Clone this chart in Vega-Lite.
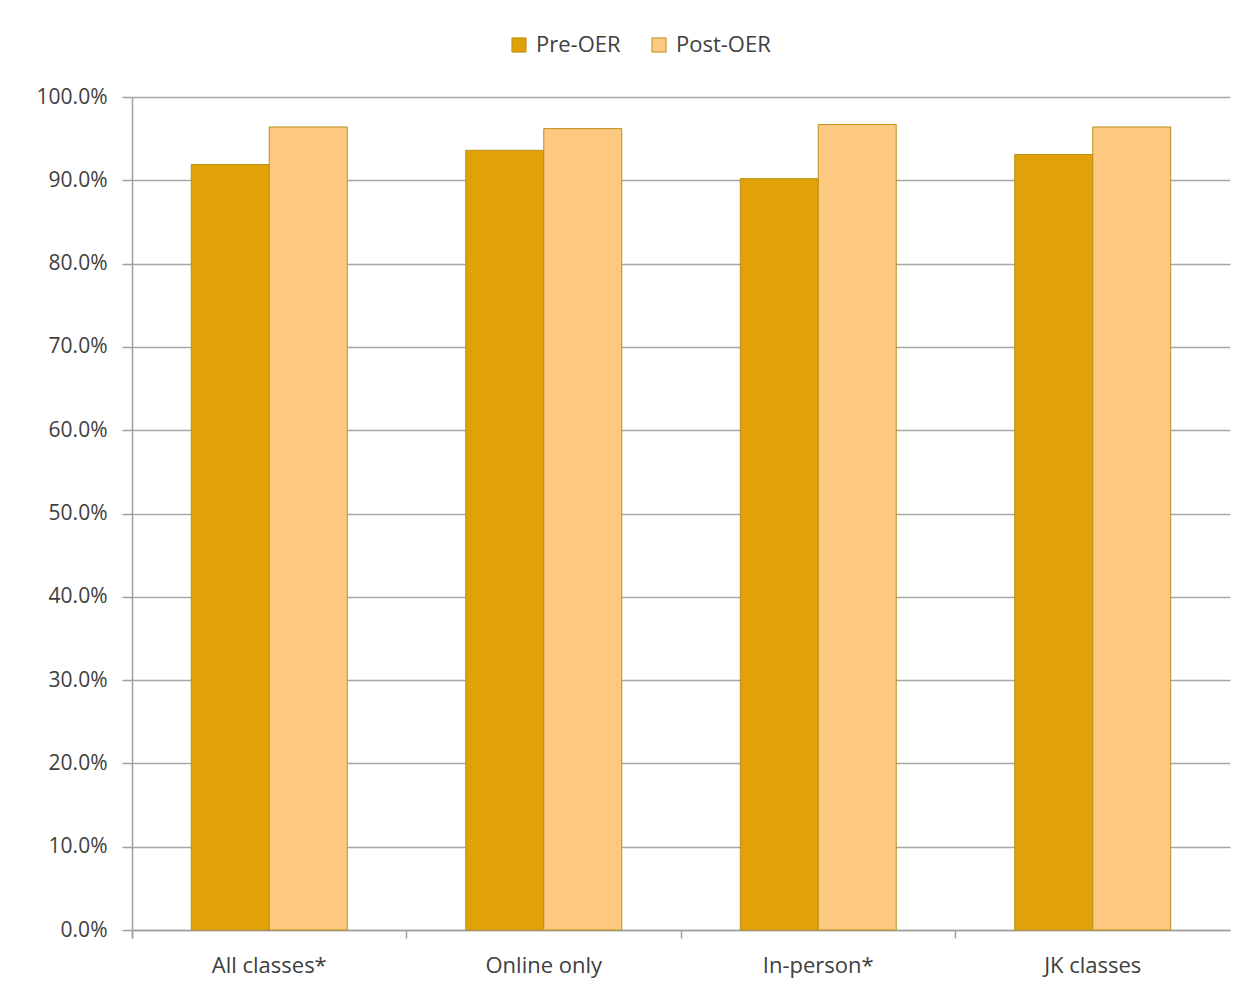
{
  "$schema": "https://vega.github.io/schema/vega-lite/v6.json",
  "autosize": {"type": "none"},
  "width": 1098,
  "height": 833,
  "padding": {"left": 132, "top": 97, "right": 25, "bottom": 63},
  "background": "white",
  "data": {
    "values": [
      {"group": "All classes*", "period": "Pre-OER", "rate": 0.919},
      {"group": "All classes*", "period": "Post-OER", "rate": 0.964},
      {"group": "Online only", "period": "Pre-OER", "rate": 0.936},
      {"group": "Online only", "period": "Post-OER", "rate": 0.962},
      {"group": "In-person*", "period": "Pre-OER", "rate": 0.902},
      {"group": "In-person*", "period": "Post-OER", "rate": 0.967},
      {"group": "JK classes", "period": "Pre-OER", "rate": 0.931},
      {"group": "JK classes", "period": "Post-OER", "rate": 0.964}
    ]
  },
  "mark": {"type": "bar", "stroke": "#b8901a", "strokeWidth": 1},
  "encoding": {
    "x": {
      "field": "group",
      "type": "nominal",
      "sort": ["All classes*", "Online only", "In-person*", "JK classes"],
      "scale": {"paddingInner": 0, "paddingOuter": 0},
      "axis": {
        "title": null,
        "labelAngle": 0,
        "bandPosition": 0,
        "tickExtra": true,
        "domainColor": "#a0a0a0",
        "domainWidth": 1.5,
        "tickColor": "#a0a0a0",
        "tickWidth": 1.5,
        "tickSize": 8,
        "labelPadding": 17,
        "labelFont": "Open Sans",
        "labelFontSize": 22,
        "labelColor": "#404040",
        "grid": false
      }
    },
    "xOffset": {
      "field": "period",
      "type": "nominal",
      "sort": ["Pre-OER", "Post-OER"],
      "scale": {"paddingInner": 0, "paddingOuter": 0.76}
    },
    "y": {
      "field": "rate",
      "type": "quantitative",
      "scale": {"domain": [0, 1], "nice": false},
      "axis": {
        "title": null,
        "format": ".1%",
        "values": [0, 0.1, 0.2, 0.3, 0.4, 0.5, 0.6, 0.7, 0.8, 0.9, 1.0],
        "grid": true,
        "gridColor": "#a6a6a6",
        "gridWidth": 1.5,
        "domainColor": "#a0a0a0",
        "domainWidth": 1.5,
        "tickColor": "#a0a0a0",
        "tickWidth": 1.5,
        "tickSize": 10,
        "labelPadding": 15,
        "labelFont": "Open Sans",
        "labelFontSize": 21,
        "labelColor": "#404040"
      }
    },
    "color": {
      "field": "period",
      "type": "nominal",
      "sort": ["Pre-OER", "Post-OER"],
      "scale": {"domain": ["Pre-OER", "Post-OER"], "range": ["#e0a207", "#fdc981"]},
      "legend": {
        "title": null,
        "orient": "none",
        "direction": "horizontal",
        "legendX": 376,
        "legendY": -63,
        "symbolType": "square",
        "symbolSize": 200,
        "symbolStrokeColor": "#b8901a",
        "symbolStrokeWidth": 1,
        "labelFont": "Open Sans",
        "labelFontSize": 22,
        "labelColor": "#404040",
        "labelOffset": 6,
        "columnPadding": 27
      }
    }
  },
  "config": {
    "view": {"stroke": null}
  }
}
